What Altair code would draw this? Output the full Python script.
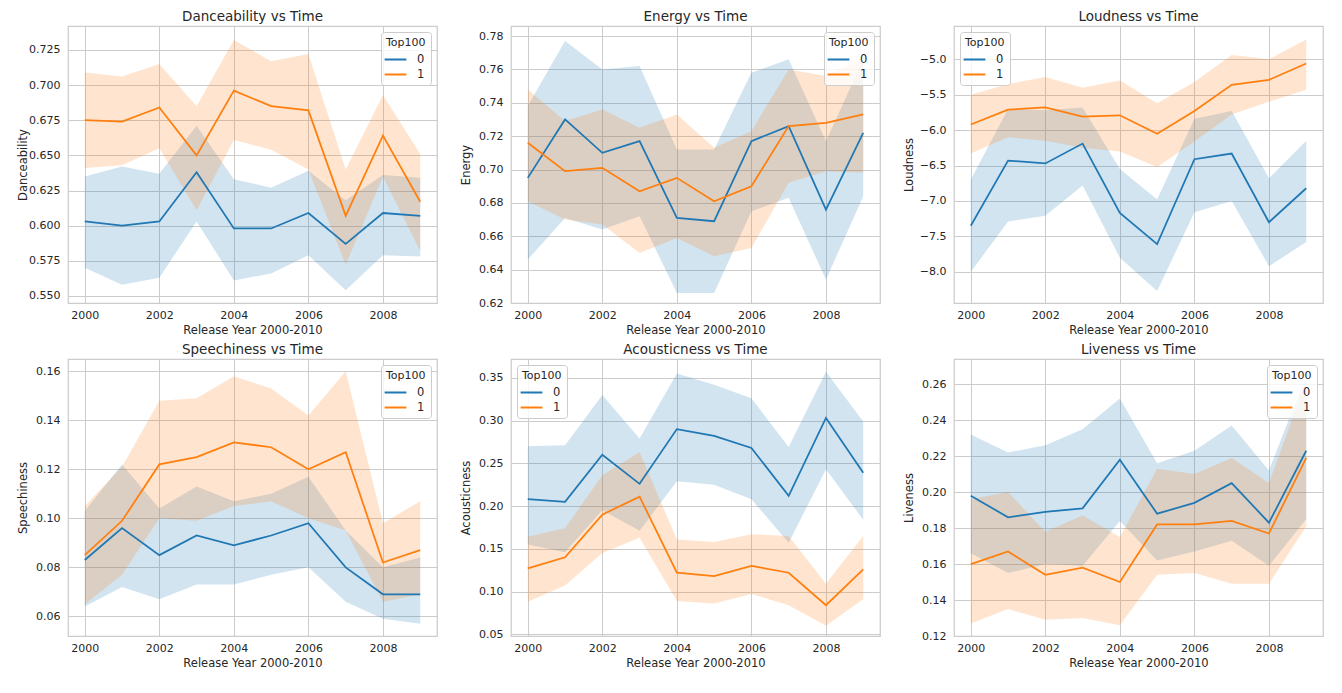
import altair as alt
import pandas as pd

years = list(range(2000, 2010))
groups = ["0", "1"]
colors = ["#1f77b4", "#ff7f0e"]
x_ticks = [2000, 2002, 2004, 2006, 2008]

# Danceability
dance_mean_0 = [0.603, 0.600, 0.603, 0.638, 0.598, 0.598, 0.609, 0.587, 0.609, 0.607]
dance_lo_0 = [0.570, 0.558, 0.563, 0.603, 0.561, 0.566, 0.579, 0.554, 0.579, 0.578]
dance_hi_0 = [0.635, 0.642, 0.637, 0.671, 0.633, 0.627, 0.639, 0.618, 0.636, 0.634]
dance_mean_1 = [0.675, 0.674, 0.684, 0.650, 0.696, 0.685, 0.682, 0.607, 0.664, 0.617]
dance_lo_1 = [0.641, 0.643, 0.655, 0.611, 0.661, 0.654, 0.640, 0.572, 0.635, 0.582]
dance_hi_1 = [0.709, 0.706, 0.715, 0.685, 0.732, 0.717, 0.722, 0.640, 0.693, 0.651]
dance_ticks = [0.550, 0.575, 0.600, 0.625, 0.650, 0.675, 0.700, 0.725]

# Energy
energy_mean_0 = [0.695, 0.730, 0.710, 0.717, 0.671, 0.669, 0.717, 0.726, 0.676, 0.722]
energy_lo_0 = [0.646, 0.671, 0.664, 0.672, 0.626, 0.626, 0.675, 0.683, 0.634, 0.684]
energy_hi_0 = [0.738, 0.777, 0.760, 0.762, 0.712, 0.712, 0.758, 0.766, 0.717, 0.766]
energy_mean_1 = [0.716, 0.699, 0.701, 0.687, 0.695, 0.681, 0.690, 0.726, 0.728, 0.733]
energy_lo_1 = [0.681, 0.670, 0.667, 0.650, 0.659, 0.648, 0.653, 0.692, 0.699, 0.698]
energy_hi_1 = [0.748, 0.729, 0.736, 0.725, 0.733, 0.713, 0.723, 0.760, 0.756, 0.767]
energy_ticks = [0.62, 0.64, 0.66, 0.68, 0.70, 0.72, 0.74, 0.76, 0.78]

# Loudness
loud_mean_0 = [-7.35, -6.43, -6.47, -6.19, -7.17, -7.61, -6.41, -6.33, -7.30, -6.82]
loud_lo_0 = [-8.00, -7.29, -7.21, -6.78, -7.80, -8.27, -7.16, -7.00, -7.92, -7.58]
loud_hi_0 = [-6.70, -5.70, -5.72, -5.68, -6.55, -6.98, -5.84, -5.73, -6.68, -6.15]
loud_mean_1 = [-5.92, -5.71, -5.68, -5.81, -5.79, -6.05, -5.73, -5.36, -5.29, -5.06]
loud_lo_1 = [-6.33, -6.10, -6.15, -6.25, -6.30, -6.52, -6.16, -5.78, -5.60, -5.43]
loud_hi_1 = [-5.50, -5.35, -5.25, -5.40, -5.30, -5.62, -5.32, -4.94, -5.00, -4.72]
loud_ticks = [-8.0, -7.5, -7.0, -6.5, -6.0, -5.5, -5.0]

# Speechiness
speech_mean_0 = [0.083, 0.096, 0.085, 0.093, 0.089, 0.093, 0.098, 0.080, 0.069, 0.069]
speech_lo_0 = [0.064, 0.072, 0.067, 0.073, 0.073, 0.077, 0.080, 0.066, 0.059, 0.057]
speech_hi_0 = [0.103, 0.122, 0.104, 0.113, 0.107, 0.110, 0.117, 0.095, 0.080, 0.084]
speech_mean_1 = [0.085, 0.099, 0.122, 0.125, 0.131, 0.129, 0.120, 0.127, 0.082, 0.087]
speech_lo_1 = [0.065, 0.077, 0.100, 0.099, 0.105, 0.107, 0.100, 0.095, 0.066, 0.069]
speech_hi_1 = [0.105, 0.121, 0.148, 0.149, 0.158, 0.153, 0.142, 0.160, 0.098, 0.107]
speech_ticks = [0.06, 0.08, 0.10, 0.12, 0.14, 0.16]

# Acousticness
acoustic_mean_0 = [0.208, 0.205, 0.260, 0.226, 0.290, 0.282, 0.268, 0.212, 0.303, 0.239]
acoustic_lo_0 = [0.155, 0.146, 0.195, 0.171, 0.229, 0.225, 0.208, 0.157, 0.243, 0.184]
acoustic_hi_0 = [0.270, 0.271, 0.330, 0.279, 0.355, 0.342, 0.326, 0.269, 0.357, 0.299]
acoustic_mean_1 = [0.127, 0.140, 0.190, 0.211, 0.122, 0.118, 0.130, 0.122, 0.084, 0.126]
acoustic_lo_1 = [0.088, 0.107, 0.145, 0.163, 0.089, 0.086, 0.097, 0.084, 0.060, 0.091]
acoustic_hi_1 = [0.164, 0.174, 0.236, 0.263, 0.161, 0.158, 0.167, 0.165, 0.109, 0.165]
acoustic_ticks = [0.05, 0.10, 0.15, 0.20, 0.25, 0.30, 0.35]

# Liveness
live_mean_0 = [0.198, 0.186, 0.189, 0.191, 0.218, 0.188, 0.194, 0.205, 0.183, 0.223]
live_lo_0 = [0.166, 0.155, 0.160, 0.159, 0.184, 0.162, 0.167, 0.173, 0.159, 0.185]
live_hi_0 = [0.232, 0.222, 0.226, 0.235, 0.252, 0.216, 0.223, 0.237, 0.212, 0.265]
live_mean_1 = [0.160, 0.167, 0.154, 0.158, 0.150, 0.182, 0.182, 0.184, 0.177, 0.219]
live_lo_1 = [0.127, 0.135, 0.129, 0.130, 0.126, 0.154, 0.155, 0.149, 0.149, 0.181]
live_hi_1 = [0.196, 0.200, 0.178, 0.187, 0.175, 0.213, 0.210, 0.219, 0.205, 0.262]
live_ticks = [0.12, 0.14, 0.16, 0.18, 0.20, 0.22, 0.24, 0.26]

FONT = "DejaVu Sans"
TEXT = "#262626"


def panel(name, series0, series1, domain, ticks, fmt, orient):
    rows = []
    for grp, (m, lo, hi) in zip(groups, (series0, series1)):
        for yr, a, b, c in zip(years, m, lo, hi):
            rows.append({"year": yr, "Top100": grp, "mean": a, "lo": b, "hi": c})
    df = pd.DataFrame(rows)
    base = alt.Chart(df)
    x = alt.X(
        "year:Q",
        scale=alt.Scale(domain=[1999.55, 2009.45], nice=False, zero=False),
        axis=alt.Axis(values=x_ticks, format="d", title="Release Year 2000-2010"),
    )
    yscale = alt.Scale(domain=domain, nice=False, zero=False)
    yaxis = alt.Axis(values=ticks, format=fmt, title=name)
    cscale = alt.Scale(domain=groups, range=colors)
    bands = [
        base.transform_filter(alt.datum.Top100 == grp)
        .mark_area(color=col, opacity=0.2)
        .encode(x=x, y=alt.Y("lo:Q", scale=yscale, axis=yaxis), y2="hi:Q")
        for grp, col in zip(groups, colors)
    ]
    line = base.mark_line(strokeWidth=1.75).encode(
        x=x,
        y=alt.Y("mean:Q", scale=yscale, axis=yaxis),
        color=alt.Color(
            "Top100:N",
            scale=cscale,
            legend=alt.Legend(
                title="Top100",
                orient=orient,
                offset=6,
                padding=5,
                fillColor="rgba(255,255,255,0.8)",
                strokeColor="#cccccc",
                cornerRadius=3,
                symbolType="M-1.3,0H1.3",
                symbolSize=280,
                symbolStrokeWidth=2,
                labelOffset=12,
                rowPadding=0,
                titlePadding=2,
                titleFont=FONT,
                titleFontSize=11,
                titleFontWeight="normal",
                titleColor=TEXT,
                labelFont=FONT,
                labelFontSize=11.5,
                labelColor=TEXT,
            ),
        ),
    )
    return alt.layer(*bands, line).properties(
        width=369, height=277, title=f"{name} vs Time"
    )


panels = [
    panel("Danceability", (dance_mean_0, dance_lo_0, dance_hi_0),
          (dance_mean_1, dance_lo_1, dance_hi_1), [0.545, 0.742], dance_ticks, ".3f", "top-right"),
    panel("Energy", (energy_mean_0, energy_lo_0, energy_hi_0),
          (energy_mean_1, energy_lo_1, energy_hi_1), [0.62, 0.786], energy_ticks, ".2f", "top-right"),
    panel("Loudness", (loud_mean_0, loud_lo_0, loud_hi_0),
          (loud_mean_1, loud_lo_1, loud_hi_1), [-8.44, -4.53], loud_ticks, ".1f", "top-left"),
    panel("Speechiness", (speech_mean_0, speech_lo_0, speech_hi_0),
          (speech_mean_1, speech_lo_1, speech_hi_1), [0.052, 0.165], speech_ticks, ".2f", "top-right"),
    panel("Acousticness", (acoustic_mean_0, acoustic_lo_0, acoustic_hi_0),
          (acoustic_mean_1, acoustic_lo_1, acoustic_hi_1), [0.048, 0.372], acoustic_ticks, ".2f", "top-left"),
    panel("Liveness", (live_mean_0, live_lo_0, live_hi_0),
          (live_mean_1, live_lo_1, live_hi_1), [0.12, 0.274], live_ticks, ".2f", "top-right"),
]

chart = (
    alt.concat(*panels, columns=3, spacing={"row": 4, "column": 21})
    .resolve_scale(x="independent", y="independent", color="independent")
    .resolve_legend(color="independent")
    .properties(padding={"left": 8, "top": 0, "right": 5, "bottom": 5})
    .configure_view(stroke="#cccccc", strokeWidth=1.25)
    .configure_axis(
        labelFont=FONT,
        labelFontSize=11,
        labelColor=TEXT,
        titleFont=FONT,
        titleFontSize=11.5,
        titleFontWeight="normal",
        titleColor=TEXT,
        gridColor="#cccccc",
        gridWidth=1,
        domain=False,
        ticks=False,
    )
    .configure_axisX(labelPadding=6, titlePadding=4)
    .configure_axisY(labelPadding=8, minExtent=36, maxExtent=36, titlePadding=4)
    .configure_title(font=FONT, fontSize=13.5, fontWeight="normal", color=TEXT, offset=3)
)

chart.save("out.html", embed_options={"renderer": "svg", "actions": False})
